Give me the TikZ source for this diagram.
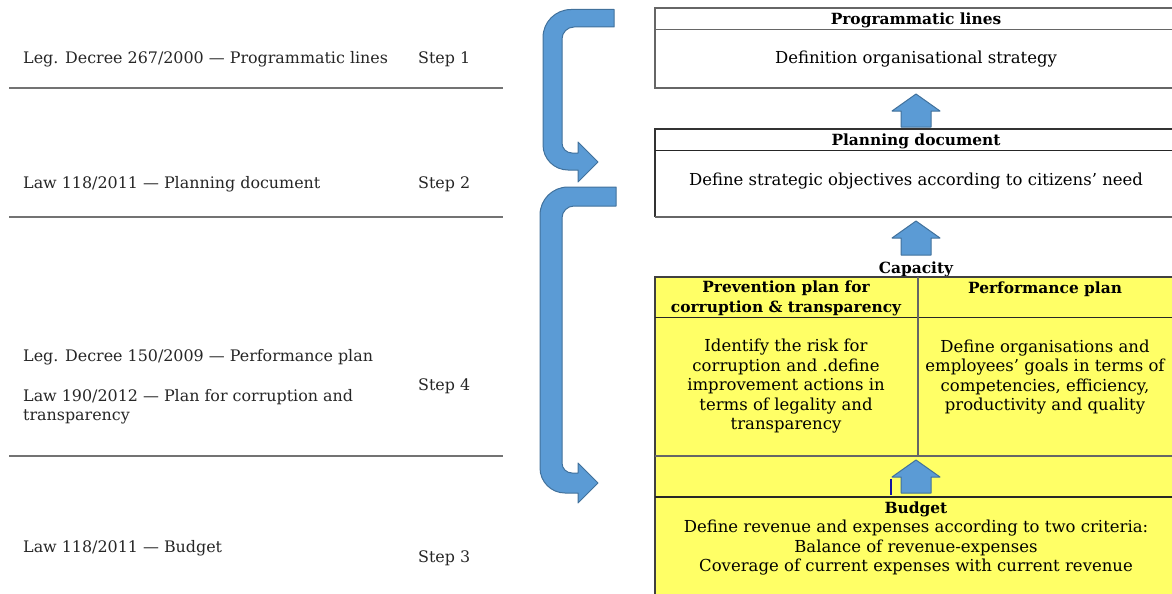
\documentclass[tikz,border=0pt]{standalone}
\usepackage{fontspec}
\setmainfont{DejaVu Serif}
\definecolor{ayellow}{RGB}{255,255,102}
\definecolor{afill}{RGB}{91,155,213}
\definecolor{aborder}{RGB}{65,113,156}
\definecolor{tick}{RGB}{20,20,160}
\begin{document}
\begin{tikzpicture}[x=1pt,y=-1pt,
  txt/.style={font=\fontsize{16.5}{19.5}\selectfont, inner sep=0pt, align=center},
  hdr/.style={font=\fontsize{15.4}{19.5}\selectfont\bfseries, inner sep=0pt, align=center},
  ltxt/.style={font=\fontsize{15.9}{19.5}\selectfont, inner sep=0pt, anchor=west, align=left, text=black!85},
  boxline/.style={draw=black!60, line width=1.2pt},
  rulesep/.style={draw=black!55, line width=1.3pt},
  blockarrow/.style={fill=afill, draw=aborder, line width=1pt, line join=round}]

\useasboundingbox (0,0) rectangle (1172,594);
\clip (0,0) rectangle (1172,594);

% ---------- left column ----------
\draw[rulesep] (9,88) -- (503,88);
\draw[rulesep] (9,217) -- (503,217);
\draw[rulesep] (9,456) -- (503,456);

\node[ltxt] (l1) at (23,59) {Leg. Decree 267/2000 — Programmatic lines};
\node[ltxt] (s1) at (418,59) {Step 1};
\node[ltxt] (l2) at (23,184) {Law 118/2011 — Planning document};
\node[ltxt] (s2) at (418,184) {Step 2};
\node[ltxt] (l3) at (23,357) {Leg. Decree 150/2009 — Performance plan};
\node[ltxt] (l4) at (23,406.5) {Law 190/2012 — Plan for corruption and\\transparency};
\node[ltxt] (s4) at (418,386) {Step 4};
\node[ltxt] (l5) at (23,548) {Law 118/2011 — Budget};
\node[ltxt] (s3) at (418,558) {Step 3};

% ---------- curved arrows ----------
\draw[blockarrow] (614,9.5) -- (571,9.5) .. controls (555.5,9.5) and (543,22) .. (543,37.5)
  -- (543,145) .. controls (543,158.8) and (554.2,170) .. (568,170)
  -- (578,170) -- (578,182) -- (598,162) -- (578,142) -- (578,153)
  -- (572,153) .. controls (566.5,153) and (562,148.5) .. (562,143)
  -- (562,39) .. controls (562,32.4) and (567.4,27) .. (574,27) -- (614,27) -- cycle;

\draw[blockarrow] (616,187) -- (568,187) .. controls (552.5,187) and (540,199.5) .. (540,215)
  -- (540,468) .. controls (540,481.8) and (551.2,493) .. (565,493)
  -- (578,493) -- (578,503) -- (598,483) -- (578,463) -- (578,473)
  -- (572,473) .. controls (566.5,473) and (562,468.5) .. (562,463)
  -- (562,218) .. controls (562,211.4) and (567.4,206) .. (574,206) -- (616,206) -- cycle;

% ---------- box 1 ----------
\draw[boxline] (1180,8) -- (655,8) -- (655,88) -- (1180,88);
\draw[boxline] (655,29.5) -- (1180,29.5);
\node[hdr] (h1) at (916,20) {Programmatic lines};
\node[txt] (b1) at (916,59) {Definition organisational strategy};

% up arrow 1
\draw[blockarrow] (901,127) -- (901,111) -- (892,111) -- (916,94) -- (940,111) -- (931,111) -- (931,127) -- cycle;

% ---------- box 2 ----------
\draw[draw=black!80, line width=1.2pt] (1180,129) -- (655,129) -- (655,217);
\draw[draw=black!85, line width=1.2pt] (655,150.5) -- (1180,150.5);
\draw[boxline] (655,217) -- (1180,217);
\node[hdr] (h2) at (916,141) {Planning document};
\node[txt] (b2) at (916,181) {Define strategic objectives according to citizens’ need};

% up arrow 2
\draw[blockarrow] (901,255) -- (901,238) -- (892,238) -- (916,221) -- (940,238) -- (931,238) -- (931,255) -- cycle;

\node[hdr] (cap) at (916,269) {Capacity};

% ---------- yellow block ----------
\fill[ayellow] (655,277) rectangle (1180,600);
\draw[draw=black!75, line width=1.2pt] (655,600) -- (655,277) -- (1180,277);
\draw[draw=black!85, line width=1.2pt] (655,317.5) -- (1180,317.5);
\draw[draw=black!60, line width=1.2pt] (655,456) -- (1180,456);
\draw[draw=black!85, line width=1.2pt] (655,497) -- (1180,497);
\draw[draw=black!60, line width=1.2pt] (918,277) -- (918,456);

\node[hdr] (hp) at (786,298.5) {Prevention plan for\\corruption \& transparency};
\node[hdr] (hq) at (1045,289) {Performance plan};
\node[txt] (bp) at (786,386.5) {Identify the risk for\\corruption and .define\\improvement actions in\\terms of legality and\\transparency};
\node[txt] (bq) at (1045,377) {Define organisations and\\employees’ goals in terms of\\competencies, efficiency,\\productivity and quality};

% up arrow 3
\draw[blockarrow] (901,493) -- (901,477) -- (892,477) -- (916,460) -- (940,477) -- (931,477) -- (931,493) -- cycle;
\draw[tick, line width=1.5pt] (891,479) -- (891,495);

\node[hdr] (hb) at (916,509) {Budget};
\node[txt] (bb) at (916,548) {Define revenue and expenses according to two criteria:\\Balance of revenue-expenses\\Coverage of current expenses with current revenue};
\end{tikzpicture}
\end{document}
